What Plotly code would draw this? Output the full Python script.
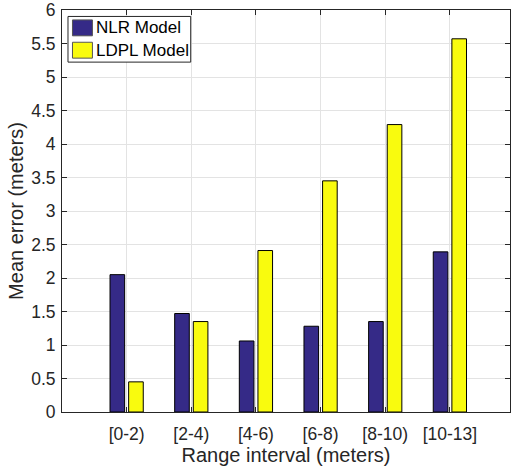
import plotly.graph_objects as go

# Mean localisation error per range interval
categories = ["[0-2)", "[2-4)", "[4-6)", "[6-8)", "[8-10)", "[10-13]"]
nlr_error = [2.05, 1.47, 1.06, 1.28, 1.35, 2.39]
ldpl_error = [0.45, 1.35, 2.41, 3.45, 4.29, 5.57]
series_names = ["NLR Model", "LDPL Model"]
series_colors = ["#352A87", "#F9FB0E"]

W, H = 511, 472
ML, MR, MT, MB = 62, 0, 7, 60
FONT = "Liberation Sans, Arial, Helvetica, sans-serif"
TXT = "#262626"

fig = go.Figure()
for name, vals, col in zip(series_names, [nlr_error, ldpl_error], series_colors):
    fig.add_trace(go.Bar(
        x=categories, y=vals, name=name,
        marker=dict(color=col, line=dict(color="#000000", width=1)),
        showlegend=False,
    ))

axis_common = dict(
    showline=True, linecolor=TXT, linewidth=1, mirror="ticks",
    ticks="inside", ticklen=5, tickcolor=TXT, tickwidth=1,
    showgrid=True, gridcolor="#E3E3E3", gridwidth=1,
    zeroline=False, ticklabeloverflow="allow",
    tickfont=dict(family=FONT, size=17.5, color=TXT),
)

fig.update_layout(
    width=W, height=H,
    margin=dict(l=ML, r=MR, t=MT, b=MB, pad=0),
    paper_bgcolor="white", plot_bgcolor="white",
    barmode="group", bargap=0.424, bargroupgap=0.215,
    xaxis=dict(axis_common, range=[-1, 5.93], ticklabelstandoff=6,
               title=dict(text="Range interval (meters)", standoff=3,
                          font=dict(family=FONT, size=20, color=TXT))),
    yaxis=dict(axis_common, range=[0, 6], dtick=0.5, ticklabelstandoff=2,
               title=dict(text="Mean error (meters)", standoff=2,
                          font=dict(family=FONT, size=20, color=TXT))),
)

# Legend drawn as a boxed key in the upper-left corner
pw, ph = W - ML - MR, H - MT - MB
def px_x(x):
    return (x - ML) / pw
def px_y(y):
    return 1 - (y - MT) / ph

fig.add_shape(type="rect", xref="paper", yref="paper",
              x0=px_x(68), x1=px_x(191), y0=px_y(59.5), y1=px_y(13.5),
              line=dict(color=TXT, width=1), fillcolor="white", layer="above")
for i, (name, col) in enumerate(zip(series_names, series_colors)):
    top = 17 + i * 22.5
    fig.add_shape(type="rect", xref="paper", yref="paper",
                  x0=px_x(72.5), x1=px_x(92.5), y0=px_y(top + 16), y1=px_y(top),
                  line=dict(color="#555555", width=1), fillcolor=col, layer="above")
    fig.add_annotation(xref="paper", yref="paper", x=px_x(94), y=px_y(top + 8),
                       text=name, showarrow=False, xanchor="left", yanchor="middle",
                       font=dict(family=FONT, size=17, color="#000000"))

fig.write_html("out.html")
